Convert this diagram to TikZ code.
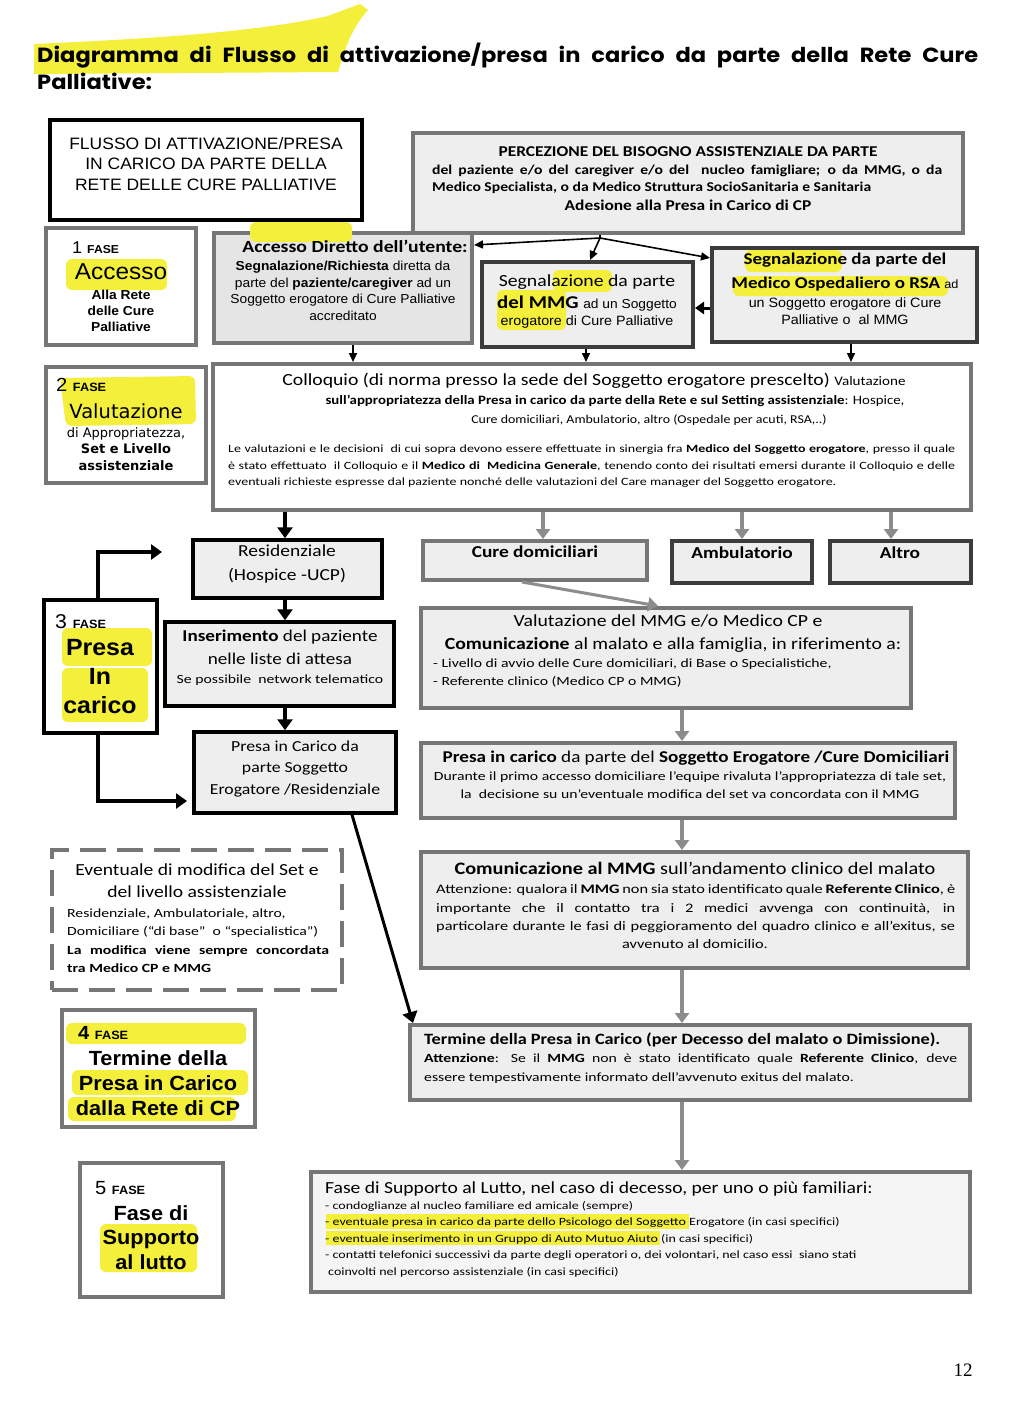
\documentclass[tikz,border=0pt]{standalone}
\usepackage{fontspec}
\setmainfont[FakeStretch=1.16]{Carlito}
\newfontfamily\cw[FakeStretch=1.26]{Carlito}
\newfontfamily\ar[FakeStretch=1.06]{Liberation Sans}
\newfontfamily\cg[FakeStretch=1.1]{Poppins}
\newfontfamily\dv{DejaVu Sans}
\newfontfamily\lser{Liberation Serif}
\usetikzlibrary{arrows.meta,fit}
\newcommand\myfs[2]{\fontsize{#1}{#2}\selectfont}
\newcommand\jl[2]{\makebox[#1][s]{#2}}
\definecolor{hl}{HTML}{F4EF3A}
\definecolor{bfill}{HTML}{EEEEEE}
\definecolor{gbord}{HTML}{767676}
\definecolor{dbord}{HTML}{3C3C3C}
\definecolor{garr}{HTML}{8C8C8C}
\tikzset{
  box/.style={rectangle, inner sep=0pt},
  gbox/.style={box, draw=gbord, line width=4pt, fill=bfill},
  gwbox/.style={box, draw=gbord, line width=4pt, fill=white},
  dbox/.style={box, draw=dbord, line width=4pt, fill=bfill},
  kbox/.style={box, draw=black, line width=3.5pt, fill=bfill},
  kwbox/.style={box, draw=black, line width=3.5pt, fill=white},
  txt/.style={inner sep=0pt, anchor=north, align=center},
  ltxt/.style={inner sep=0pt, anchor=north west, align=left},
  karr/.style={draw=black, line width=3.5pt, -{Triangle[width=15pt,length=11pt]}},
  garrow/.style={draw=garr, line width=4pt, -{Triangle[width=14pt,length=10pt]}},
  tarr/.style={draw=black, line width=1.6pt, -{Triangle[width=8pt,length=9pt]}},
  tline/.style={draw=black, line width=1.6pt},
  hlt/.style={fill=hl, rounded corners=6pt},
}
\begin{document}
\begin{tikzpicture}[x=1pt,y=-1pt]
\useasboundingbox[fill=white] (0,0) rectangle (1024,1402);

% ---------- boxes ----------
\node[kwbox, fit={(50,120) (362,220)}] (flusso) {};
\node[gbox, fit={(413,133) (963,233)}] (perc) {};
\node[gwbox, fit={(46,228) (196,345)}] (fase1) {};
\node[gbox, fill=black!10, fit={(214,233) (472,343)}] (accdir) {};
\node[dbox, fit={(482,262) (693,347)}] (mmg) {};
\node[dbox, fit={(712,248) (977,342)}] (osp) {};
\node[gwbox, fit={(46,367) (206,483)}] (fase2) {};
\node[gwbox, fit={(213,364) (971,510)}] (colloq) {};
\node[kbox, fit={(193,540) (382,598)}] (resid) {};
\node[gbox, fit={(423,541) (647,580)}] (cured) {};
\node[dbox, fit={(672,541) (812,583)}] (ambul) {};
\node[dbox, fit={(830,541) (971,583)}] (altro) {};
\node[kwbox, fit={(44,600) (157,733)}] (fase3) {};
\node[kbox, fit={(165,622) (394,706)}] (inser) {};
\node[kbox, fit={(194,732) (396,813)}] (presres) {};
\node[gbox, fit={(421,608) (911,708)}] (valmmg) {};
\node[gbox, fit={(421,743) (955,818)}] (presacd) {};
\node[gbox, fit={(421,852) (968,968)}] (comun) {};
\node[gbox, fit={(410,1025) (970,1100)}] (termine) {};
\node[gbox, fill=black!4, fit={(311,1172) (970,1292)}] (supporto) {};
\node[box, draw=gbord, line width=4pt, dash pattern=on 26pt off 11pt, fill=white, fit={(52,850) (342,990)}] (event) {};
\node[gwbox, fit={(62,1010) (255,1127)}] (fase4) {};
\node[gwbox, fit={(80,1163) (223,1297)}] (fase5) {};

% ---------- highlights ----------
\fill[hl] (34,44) .. controls (120,40) and (250,34) .. (328,16) -- (360,4) -- (368,10) .. controls (350,30) and (345,50) .. (338,72) -- (34,74) -- cycle;
\fill[hlt] (66,259) rectangle (167,290);
\fill[hlt] (250,222) rectangle (352,242);
\fill[hlt] (553,270) rectangle (612,292);
\fill[hlt] (497,290) rectangle (566,330);
\fill[hlt] (745,250) rectangle (842,272);
\fill[hlt] (733,276) rectangle (948,296);
\fill[hlt] (60,378) -- (195,376) -- (196,424) -- (66,426) -- cycle;
\fill[hlt] (62,628) rectangle (152,666);
\fill[hlt] (62,668) rectangle (148,722);
\fill[hlt] (66,1023) rectangle (246,1044);
\fill[hlt] (72,1070) rectangle (248,1095);
\fill[hlt] (68,1097) rectangle (236,1121);
\fill[hlt] (100,1224) rectangle (197,1272);
\fill[hl] (326,1214) rectangle (689,1229);
\fill[hl] (326,1231) rectangle (660,1245);

% ---------- texts ----------
\node[ltxt, font=\cg\bfseries\myfs{20.5}{27}] (title) at (37,43)
  {\jl{941pt}{Diagramma di Flusso di attivazione/presa in carico da parte della Rete Cure}\\Palliative:};

\node[txt, font=\ar\myfs{16.5}{20.5}] (tflusso) at (206,137)
  {FLUSSO DI ATTIVAZIONE/PRESA\\IN CARICO DA PARTE DELLA\\RETE DELLE CURE PALLIATIVE};

\node[txt, font=\bfseries\myfs{15}{17}] (tperc1) at (688,146.6) {PERCEZIONE DEL BISOGNO ASSISTENZIALE DA PARTE};
\node[ltxt, font=\bfseries\myfs{13.5}{17}] (tperc2) at (432,164.5)
  {\jl{510pt}{del paziente e/o del caregiver e/o del \ nucleo famigliare; o da MMG, o da}\\Medico Specialista, o da Medico Struttura SocioSanitaria e Sanitaria};
\node[txt, font=\bfseries\myfs{15}{17}] (tperc3) at (688,199.6) {Adesione alla Presa in Carico di CP};

\node[ltxt, font=\ar\myfs{17}{20}] (tf1a) at (72,242) {1 {\bfseries\myfs{11.5}{14}FASE}};
\node[txt, font=\ar\myfs{23}{26}] (tf1b) at (121,263.6) {Accesso};
\node[txt, font=\ar\bfseries\myfs{13}{16}] (tf1c) at (121,290.2) {Alla Rete\\delle Cure\\Palliative};

\node[txt, font=\bfseries\myfs{17}{19}] (tacc1) at (355,240) {Accesso Diretto dell’utente:};
\node[txt, font=\ar\myfs{13}{16.4}] (tacc2) at (343,261.3)
  {\textbf{Segnalazione/Richiesta} diretta da\\parte del \textbf{paziente/caregiver} ad un\\Soggetto erogatore di Cure Palliative\\accreditato};

\node[txt, font=\myfs{17}{20}] (tmmg1) at (587,274) {Segnalazione da parte};
\node[txt, font=\myfs{18}{20}] (tmmg2) at (587,295.5) {\textbf{del MMG} {\ar\myfs{13}{14}ad un Soggetto}};
\node[txt, font=\ar\myfs{13.5}{14}] (tmmg3) at (587,316) {erogatore di Cure Palliative};

\node[txt, font=\bfseries\myfs{16.4}{20}] (tosp1) at (845,253) {Segnalazione da parte del};
\node[txt, font=\bfseries\myfs{16.4}{20}] (tosp2) at (845,277) {Medico Ospedaliero o RSA {\mdseries\ar\myfs{12}{13}ad}};
\node[txt, font=\ar\myfs{13.5}{17}] (tosp3) at (845,298) {un Soggetto erogatore di Cure\\Palliative o \ al MMG};

\node[ltxt, font=\ar\myfs{19}{22}] (tf2a) at (56,378) {2 {\bfseries\myfs{12}{14}FASE}};
\node[txt, font=\dv\myfs{19.5}{22}] (tf2b) at (126,403) {Valutazione};
\node[txt, font=\dv\myfs{13}{16.5}] (tf2c) at (126,427) {di Appropriatezza,\\\textbf{Set e Livello}\\\textbf{assistenziale}};

\node[txt, font=\myfs{17}{20}] (tcol1) at (594,373) {Colloquio (di norma presso la sede del Soggetto erogatore prescelto) {\myfs{13}{15}Valutazione}};
\node[txt, font=\bfseries\myfs{12.8}{16}] (tcol2) at (615,395.4) {sull’appropriatezza della Presa in carico da parte della Rete e sul Setting assistenziale{\mdseries: Hospice,}};
\node[txt, font=\myfs{12}{16}] (tcol3) at (649,414.7) {Cure domiciliari, Ambulatorio, altro (Ospedale per acuti, RSA,..)};
\node[ltxt, font=\cw\myfs{11.1}{16.5}] (tcol4) at (228,445)
  {\jl{727pt}{Le valutazioni e le decisioni \ di cui sopra devono essere effettuate in sinergia fra \textbf{Medico del Soggetto erogatore}, presso il quale}\\
   \jl{727pt}{è stato effettuato \ il Colloquio e il \textbf{Medico di \ Medicina Generale}, tenendo conto dei risultati emersi durante il Colloquio e delle}\\
   eventuali richieste espresse dal paziente nonché delle valutazioni del Care manager del Soggetto erogatore.};

\node[txt, font=\myfs{16.8}{23.5}] (tres) at (287,545) {Residenziale\\(Hospice -UCP)};
\node[txt, font=\bfseries\myfs{16.7}{18}] (tcd) at (535,546) {Cure domiciliari};
\node[txt, font=\bfseries\myfs{16.7}{18}] (tamb) at (742,547) {Ambulatorio};
\node[txt, font=\bfseries\myfs{16.7}{18}] (talt) at (900,547) {Altro};

\node[ltxt, font=\ar\myfs{20}{22}] (tf3a) at (55,614) {3 {\bfseries\myfs{12}{14}FASE}};
\node[txt, font=\ar\bfseries\myfs{23.5}{29}] (tf3b) at (100,639.4) {Presa\\In\\carico};

\node[txt, font=\myfs{16.5}{23}] (tins1) at (280,630) {\textbf{Inserimento} del paziente\\nelle liste di attesa};
\node[txt, font=\cw\myfs{12.5}{14}] (tins2) at (280,674.5) {Se possibile \ network telematico};

\node[txt, font=\myfs{15.3}{21.5}] (tpres) at (295,740.5) {Presa in Carico da\\parte Soggetto\\Erogatore /Residenziale};

\node[txt, font=\myfs{17}{20}] (tval1) at (668,614) {Valutazione del MMG e/o Medico CP e};
\node[txt, font=\myfs{17}{20}] (tval2) at (673,637) {\textbf{Comunicazione} al malato e alla famiglia, in riferimento a:};
\node[ltxt, font=\cw\myfs{12.5}{18}] (tval3) at (433,658.5) {- Livello di avvio delle Cure domiciliari, di Base o Specialistiche,\\- Referente clinico (Medico CP o MMG)};

\node[txt, font=\myfs{16.5}{19}] (tpcd1) at (696,751) {\textbf{Presa in carico} da parte del \textbf{Soggetto Erogatore /Cure Domiciliari}};
\node[txt, font=\cw\myfs{12.5}{18}] (tpcd2) at (690,771.5) {Durante il primo accesso domiciliare l’equipe rivaluta l’appropriatezza di tale set,\\la \ decisione su un’eventuale modifica del set va concordata con il MMG};

\node[txt, font=\myfs{17.5}{20}] (tcom1) at (695,861.7) {\textbf{Comunicazione al MMG} sull’andamento clinico del malato};
\node[ltxt, font=\cw\myfs{13}{18.5}] (tcom2) at (436,884.3)
  {\jl{519pt}{Attenzione: qualora il \textbf{MMG} non sia stato identificato quale \textbf{Referente Clinico}, è}\\
   \jl{519pt}{importante che il contatto tra i 2 medici avvenga con continuità, in}\\
   \jl{519pt}{particolare durante le fasi di peggioramento del quadro clinico e all’exitus, se}};
\node[txt, font=\cw\myfs{13}{18.5}] (tcom3) at (695,939) {avvenuto al domicilio.};

\node[ltxt, font=\bfseries\myfs{15.75}{20}] (tter1) at (424,1032.3) {Termine della Presa in Carico (per Decesso del malato o Dimissione).};
\node[ltxt, font=\cw\myfs{12.5}{19}] (tter2) at (424,1053.5)
  {\jl{533pt}{\textbf{Attenzione}: Se il \textbf{MMG} non è stato identificato quale \textbf{Referente Clinico}, deve}\\
   essere tempestivamente informato dell’avvenuto exitus del malato.};

\node[ltxt, font=\myfs{16.9}{20}] (tsup1) at (325,1182) {Fase di Supporto al Lutto, nel caso di decesso, per uno o più familiari:};
\node[ltxt, font=\cw\myfs{11.1}{16.5}] (tsup2) at (325,1201)
  {- condoglianze al nucleo familiare ed amicale (sempre)\\
   - eventuale presa in carico da parte dello Psicologo del Soggetto Erogatore (in casi specifici)\\
   - eventuale inserimento in un Gruppo di Auto Mutuo Aiuto (in casi specifici)\\
   - contatti telefonici successivi da parte degli operatori o, dei volontari, nel caso essi \ siano stati\\
   \hspace*{3pt}coinvolti nel percorso assistenziale (in casi specifici)};

\node[txt, font=\myfs{16.9}{22}] (tev1) at (197,864) {Eventuale di modifica del Set e\\del livello assistenziale};
\node[ltxt, font=\cw\myfs{12.5}{18.5}] (tev2) at (67,908.5)
  {Residenziale, Ambulatoriale, altro,\\Domiciliare (“di base” \ o “specialistica”)\\\jl{262pt}{\textbf{La modifica viene sempre concordata}}\\\textbf{tra Medico CP e MMG}};

\node[ltxt, font=\ar\bfseries\myfs{19}{22}] (tf4a) at (78,1026) {4 {\myfs{12}{14}FASE}};
\node[txt, font=\ar\bfseries\myfs{20.5}{25}] (tf4b) at (158,1050.5) {Termine della\\Presa in Carico\\dalla Rete di CP};

\node[ltxt, font=\ar\myfs{19}{22}] (tf5a) at (95,1181) {5 {\bfseries\myfs{12}{14}FASE}};
\node[txt, font=\ar\bfseries\myfs{20.5}{24.5}] (tf5b) at (151,1205.4) {Fase di\\Supporto\\al lutto};

\node[font=\lser\myfs{19}{22}, inner sep=0pt] (pagenum) at (963,1370) {12};

% ---------- connectors ----------
\coordinate (j) at (600,238);
\draw[tline] (perc.south -| j) -- (j);
\draw[tarr] (j) -- (accdir.east |- 0,245);
\draw[tarr] (j) -- (mmg.north -| 590,0);
\draw[tarr] (j) -- (osp.west |- 0,258);
\draw[draw=black, line width=3pt, -{Triangle[width=12pt,length=9pt]}] (osp.west |- 0,308) -- (mmg.east |- 0,308);
\draw[tarr] (accdir.south -| 353,0) -- (colloq.north -| 353,0);
\draw[tarr] (mmg.south -| 586,0) -- (colloq.north -| 586,0);
\draw[tarr] (osp.south -| 851,0) -- (colloq.north -| 851,0);

\draw[karr] (colloq.south -| 285,0) -- (resid.north -| 285,0);
\draw[garrow] (colloq.south -| 543,0) -- (cured.north -| 543,0);
\draw[garrow] (colloq.south -| 742,0) -- (ambul.north -| 742,0);
\draw[garrow] (colloq.south -| 891,0) -- (altro.north -| 891,0);

\coordinate (c1) at (162,552);
\coordinate (c2) at (187,801);
\draw[karr] (fase3.north -| 98,0) |- (c1);
\draw[karr] (fase3.south -| 98,0) |- (c2);

\draw[karr] (resid.south -| 285,0) -- (inser.north -| 285,0);
\draw[karr] (inser.south -| 285,0) -- (presres.north -| 285,0);

\draw[garrow, line width=3pt] (cured.south -| 522,0) -- (valmmg.north -| 658,0);
\draw[garrow] (valmmg.south -| 682,0) -- (presacd.north -| 682,0);
\draw[garrow] (presacd.south -| 682,0) -- (comun.north -| 682,0);
\draw[garrow] (comun.south -| 682,0) -- (termine.north -| 682,0);
\draw[garrow] (termine.south -| 682,0) -- (supporto.north -| 682,0);

\draw[karr, line width=3pt] (presres.south -| 352,0) -- ([xshift=5pt]termine.north west);
\end{tikzpicture}
\end{document}
